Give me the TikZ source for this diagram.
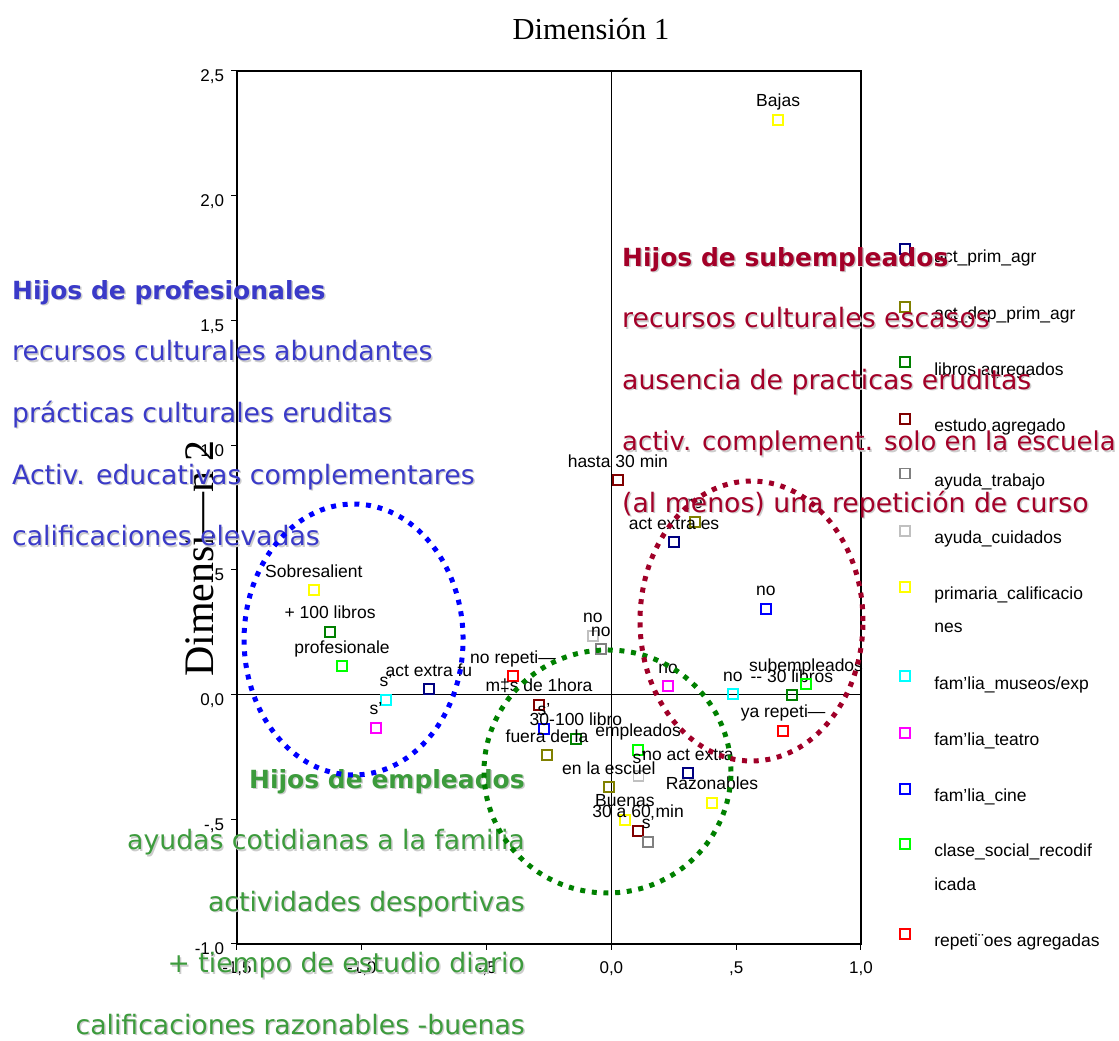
\documentclass[tikz,border=0pt]{standalone}
\usepackage{fontspec}
\setmainfont{Liberation Serif}
\newfontfamily\lblfont{Liberation Sans}
\newfontfamily\txtfont{DejaVu Sans}

\definecolor{blutxt}{RGB}{58,58,200}
\definecolor{redtxt}{RGB}{163,0,40}
\definecolor{grntxt}{RGB}{60,155,60}
\definecolor{ringblu}{RGB}{0,0,255}
\definecolor{ringred}{RGB}{160,0,40}
\definecolor{ringgrn}{RGB}{0,128,0}
\definecolor{cnavy}{RGB}{0,0,128}
\definecolor{colive}{RGB}{128,128,0}
\definecolor{cgreen}{RGB}{0,128,0}
\definecolor{cdred}{RGB}{128,0,0}
\definecolor{cgray}{RGB}{128,128,128}
\definecolor{clgray}{RGB}{192,192,192}
\definecolor{cyellow}{RGB}{255,255,0}
\definecolor{ccyan}{RGB}{0,255,255}
\definecolor{cmag}{RGB}{255,0,255}
\definecolor{cblue}{RGB}{0,0,255}
\definecolor{clime}{RGB}{0,255,0}
\definecolor{cred}{RGB}{255,0,0}

\tikzset{
	mk/.style={rectangle, draw=#1, line width=1.3pt, minimum size=10pt, inner sep=0pt},
	lbl/.style={font=\lblfont\fontsize{17.5}{20}\selectfont, anchor=base, yshift=13pt, inner sep=0pt},
	axlbl/.style={font=\lblfont\fontsize{17}{20}\selectfont, inner sep=0pt},
	legtxt/.style={font=\lblfont\fontsize{17.5}{20}\selectfont, anchor=base west, inner sep=0pt},
	bigtxt/.style={font=\txtfont\fontsize{26.7}{30}\selectfont, inner sep=0pt},
	headtxt/.style={font=\txtfont\bfseries\fontsize{25}{30}\selectfont, inner sep=0pt},
	shade/.style={text=black!20, xshift=1.5pt, yshift=-1.5pt},
	ring/.style={draw=#1, line width=5pt, dash pattern=on 5pt off 6.7pt},
}

\begin{document}
\begin{tikzpicture}[x=249.6pt,y=249.4pt]
	\useasboundingbox (-2.4495,-1.3893) rectangle (2.0337,2.7847);
	% frame and axes
	\draw[line width=1.3pt] (-1.5,-1) rectangle (1,2.5);
	\draw[line width=1.2pt] (0,-1) -- (0,2.5);
	\draw[line width=1.2pt] (-1.5,0) -- (1,0);
	\foreach \v/\t in {2.5/{2,5},2/{2,0},1.5/{1,5},1/{1,0},0.5/{,5},0/{0,0},-0.5/{-,5},-1/{-1,0}}{
		\draw[line width=1pt] (-1.5,\v) -- (-1.524,\v);
		\path (-1.551,\v) node[axlbl, anchor=base east, yshift=-11pt] {\t};
	}
	\foreach \v/\t in {-1.5/{-1,5},-1/{-1,0},-0.5/{-,5},0/{0,0},0.5/{,5},1/{1,0}}{
		\draw[line width=1pt] (\v,-1) -- (\v,-1.024);
		\path (\v,-1) node[axlbl, anchor=base, yshift=-30pt] {\t};
	}
	\node[anchor=base, inner sep=0pt, font=\fontsize{30.5}{34}\selectfont] (dim1) at (-0.082,2.628) {Dimensión 1};
	\node[anchor=base west, rotate=90, inner sep=0pt, font=\fontsize{42}{46}\selectfont] (dim2) at (-1.596,0.070) {Dimensi—n 2};

	% Left points
	\node[mk=cyellow] (sob) at (-1.192,0.419) {};
	\path (sob) node[lbl] {Sobresalient};
	\node[mk=cgreen] (lib100) at (-1.127,0.251) {};
	\path (lib100) node[lbl] {+ 100 libros};
	\node[mk=clime] (prof) at (-1.079,0.114) {};
	\path (prof) node[lbl] {profesionale};
	\node[mk=cnavy] (actfu) at (-0.731,0.022) {};
	\path (actfu) node[lbl] {act extra fu};
	\node[mk=ccyan] (mussi) at (-0.903,-0.022) {};
	\path (mussi) node[lbl] {s’};
	\node[mk=cmag] (teasi) at (-0.943,-0.134) {};
	\path (teasi) node[lbl] {s’};

	% Middle points
	\node[mk=clgray] (cuino) at (-0.074,0.235) {};
	\path (cuino) node[lbl] {no};
	\node[mk=cgray] (trano) at (-0.042,0.182) {};
	\path (trano) node[lbl] {no};
	\node[mk=cred] (norep) at (-0.394,0.074) {};
	\path (norep) node[lbl] {no repeti—};
	\node[mk=cdred] (mas1h) at (-0.290,-0.042) {};
	\path (mas1h) node[lbl] {m‡s de 1hora};
	\node[mk=cblue] (cinsi) at (-0.270,-0.138) {};
	\path (cinsi) node[lbl] {s’};
	\node[mk=cgreen] (lib30) at (-0.142,-0.178) {};
	\path (lib30) node[lbl] {30-100 libro};
	\node[mk=colive] (fuera) at (-0.258,-0.243) {};
	\path (fuera) node[lbl] {fuera de la};
	\node[mk=clime] (empl) at (0.107,-0.222) {};
	\path (empl) node[lbl] {empleados};
	\node[mk=clgray] (cuisi) at (0.110,-0.327) {};
	\path (cuisi) node[lbl] {s’};
	\node[mk=cnavy] (noact) at (0.307,-0.315) {};
	\path (noact) node[lbl] {no act extra};
	\node[mk=colive] (escu) at (-0.010,-0.371) {};
	\path (escu) node[lbl] {en la escuel};
	\node[mk=cyellow] (buen) at (0.054,-0.503) {};
	\path (buen) node[lbl] {Buenas};
	\node[mk=cdred] (min60) at (0.107,-0.547) {};
	\path (min60) node[lbl] {30 a 60 min};
	\node[mk=cgray] (trasi) at (0.147,-0.591) {};
	\path (trasi) node[lbl] {s’};
	\node[mk=cyellow] (razo) at (0.403,-0.435) {};
	\path (razo) node[lbl] {Razonables};

	% Right points
	\node[mk=cdred] (min30) at (0.026,0.860) {};
	\path (min30) node[lbl] {hasta 30 min};
	\node[mk=colive] (reol) at (0.335,0.692) {};
	\path (reol) node[lbl] {re};
	\node[mk=cnavy] (actes) at (0.251,0.611) {};
	\path (actes) node[lbl] {act extra es};
	\node[mk=cblue] (cinno) at (0.619,0.343) {};
	\path (cinno) node[lbl] {no};
	\node[mk=cmag] (teano) at (0.227,0.034) {};
	\path (teano) node[lbl] {no};
	\node[mk=ccyan] (musno) at (0.487,0.002) {};
	\path (musno) node[lbl] {no};
	\node[mk=cgreen] (lib0) at (0.723,-0.002) {};
	\path (lib0) node[lbl] {-- 30 libros};
	\node[mk=clime] (subem) at (0.780,0.042) {};
	\path (subem) node[lbl] {subempleados};
	\node[mk=cred] (yarep) at (0.688,-0.146) {};
	\path (yarep) node[lbl] {ya repeti—};
	\node[mk=cyellow] (bajas) at (0.668,2.304) {};
	\path (bajas) node[lbl] {Bajas};

	% Legend
	\foreach \y/\c/\t [count=\i] in {1.786/cnavy/act\_prim\_agr, 1.554/colive/act\_dep\_prim\_agr,
		1.333/cgreen/libros agregados, 1.105/cdred/estudo agregado, 0.885/cgray/ayuda\_trabajo,
		0.656/clgray/ayuda\_cuidados, 0.431/cyellow/primaria\_calificacio, 0.074/ccyan/{fam’lia\_museos/exp},
		-0.154/cmag/fam’lia\_teatro, -0.379/cblue/fam’lia\_cine, -0.599/clime/clase\_social\_recodif,
		-0.960/cred/repeti¨oes agregadas}{
		\node[mk=\c] (leg\i) at (1.176,\y) {};
		\node[legtxt] (legt\i) at (1.293,\y-0.052) {\t};
	}
	\node[legtxt] (legt7b) at (1.293,0.247) {nes};
	\node[legtxt] (legt11b) at (1.293,-0.784) {icada};

	% Hijos de profesionales
	\node[headtxt, anchor=base west, shade] at (-2.4014,1.5858) {Hijos de profesionales};
	\node[headtxt, anchor=base west, text=blutxt] (hprof) at (-2.4014,1.5858) {Hijos de profesionales};
	\foreach \t [count=\i] in {recursos culturales abundantes, prácticas culturales eruditas,
		Activ. educativas complementares, calificaciones elevadas}{
		\node[bigtxt, anchor=base west, shade] at (-2.4014,{1.5858-0.2474*\i}) {\t};
		\node[bigtxt, anchor=base west, text=blutxt] (hprof\i) at (-2.4014,{1.5858-0.2474*\i}) {\t};
	}
	% Hijos de subempleados
	\node[headtxt, anchor=base west, shade] at (0.0425,1.7181) {Hijos de subempleados};
	\node[headtxt, anchor=base west, text=redtxt] (hsub) at (0.0425,1.7181) {Hijos de subempleados};
	\foreach \t [count=\i] in {recursos culturales escasos, ausencia de practicas eruditas,
		{\fontsize{25.9}{30}\selectfont activ. complement. solo en la escuela}, (al menos) una repetición de curso}{
		\node[bigtxt, anchor=base west, shade] at (0.0425,{1.7181-0.2468*\i}) {\t};
		\node[bigtxt, anchor=base west, text=redtxt] (hsub\i) at (0.0425,{1.7181-0.2468*\i}) {\t};
	}
	% Hijos de empleados
	\node[headtxt, anchor=base east, shade] at (-0.3462,-0.3749) {Hijos de empleados};
	\node[headtxt, anchor=base east, text=grntxt] (hemp) at (-0.3462,-0.3749) {Hijos de empleados};
	\foreach \t [count=\i] in {ayudas cotidianas a la familia, actividades desportivas,
		+ tiempo de estudio diario, calificaciones razonables -buenas}{
		\node[bigtxt, anchor=base east, shade] at (-0.3462,{-0.3749-0.247*\i}) {\t};
		\node[bigtxt, anchor=base east, text=grntxt] (hemp\i) at (-0.3462,{-0.3749-0.247*\i}) {\t};
	}

	% groups
	\draw[ring=ringblu] (-1.033,0.2205) ellipse [x radius=0.4387, y radius=0.5433];
	\draw[ring=ringgrn] (-0.0156,-0.3087) ellipse [x radius=0.4948, y radius=0.4872];
	\draw[ring=ringred] (0.5613,0.2947) ellipse [x radius=0.4467, y radius=0.5613];
\end{tikzpicture}
\end{document}
